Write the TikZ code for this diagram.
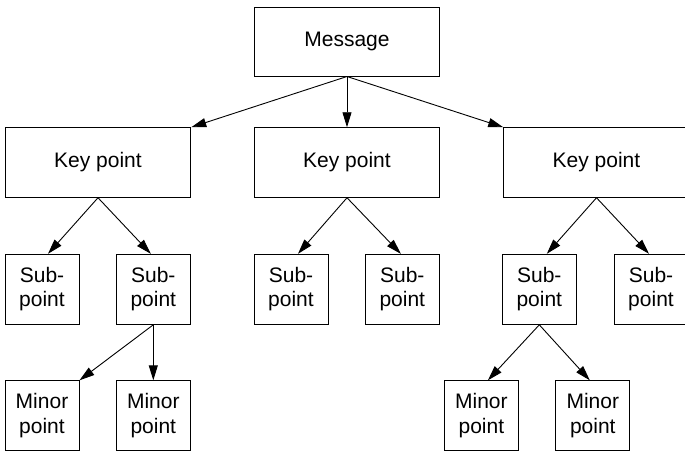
\documentclass[tikz,border=0pt]{standalone}
\usepackage{fontspec}
\setmainfont{Liberation Sans}
\usetikzlibrary{arrows.meta,calc}
\begin{document}
\begin{tikzpicture}[x=1pt,y=-1pt,
  box/.style={draw,line width=1pt,inner sep=0pt,align=center,font=\fontsize{21}{24.5}\selectfont},
  arr/.style={line width=0.9pt,-{Triangle[length=15pt,width=9pt]}}]
\useasboundingbox (0,0) rectangle (685,453);
\begin{scope}
\clip (0,0) rectangle (685,453);
% level 0
\node[box,minimum width=185pt,minimum height=69pt] (msg) at (347,41.5) {Message};
% level 1
\node[box,minimum width=185.5pt,minimum height=69.5pt] (k1) at (98,162.5) {Key point};
\node[box,minimum width=185.5pt,minimum height=69.5pt] (k2) at (347,162.5) {Key point};
\node[box,minimum width=185.5pt,minimum height=69.5pt] (k3) at (596.5,162.5) {Key point};
% level 2
\node[box,minimum width=74pt,minimum height=70pt] (s1) at (42,289.3) {Sub-\\point};
\node[box,minimum width=74pt,minimum height=70pt] (s2) at (153.3,289.3) {Sub-\\point};
\node[box,minimum width=74pt,minimum height=70pt] (s3) at (291,289.3) {Sub-\\point};
\node[box,minimum width=74pt,minimum height=70pt] (s4) at (402.3,289.3) {Sub-\\point};
\node[box,minimum width=74pt,minimum height=70pt] (s5) at (539.3,289.3) {Sub-\\point};
\node[box,minimum width=74pt,minimum height=70pt] (s6) at (651,289.3) {Sub-\\point};
% level 3
\node[box,minimum width=74pt,minimum height=70pt] (m1) at (42,415.8) {Minor\\point};
\node[box,minimum width=74pt,minimum height=70pt] (m2) at (153.3,415.8) {Minor\\point};
\node[box,minimum width=74pt,minimum height=70pt] (m3) at (481.4,415.8) {Minor\\point};
\node[box,minimum width=74pt,minimum height=70pt] (m4) at (592.8,415.8) {Minor\\point};
% connectors
\draw[arr] (msg.south) -- (k1.north east);
\draw[arr] (msg.south) -- (k2.north);
\draw[arr] (msg.south) -- (k3.north west);
\draw[arr] (k1.south) -- ($(s1.north)+(6,0)$);
\draw[arr] (k1.south) -- ($(s2.north)+(-2.5,0)$);
\draw[arr] (k2.south) -- ($(s3.north)+(7,0)$);
\draw[arr] (k2.south) -- ($(s4.north)+(-1.5,0)$);
\draw[arr] (k3.south) -- ($(s5.north)+(7.5,0)$);
\draw[arr] (k3.south) -- ($(s6.north)+(-2,0)$);
\draw[arr] (s2.south) -- (m1.north east);
\draw[arr] (s2.south) -- (m2.north);
\draw[arr] (s5.south) -- ($(m3.north)+(6.5,0)$);
\draw[arr] (s5.south) -- ($(m4.north)+(-3,0)$);
\end{scope}
\end{tikzpicture}
\end{document}
